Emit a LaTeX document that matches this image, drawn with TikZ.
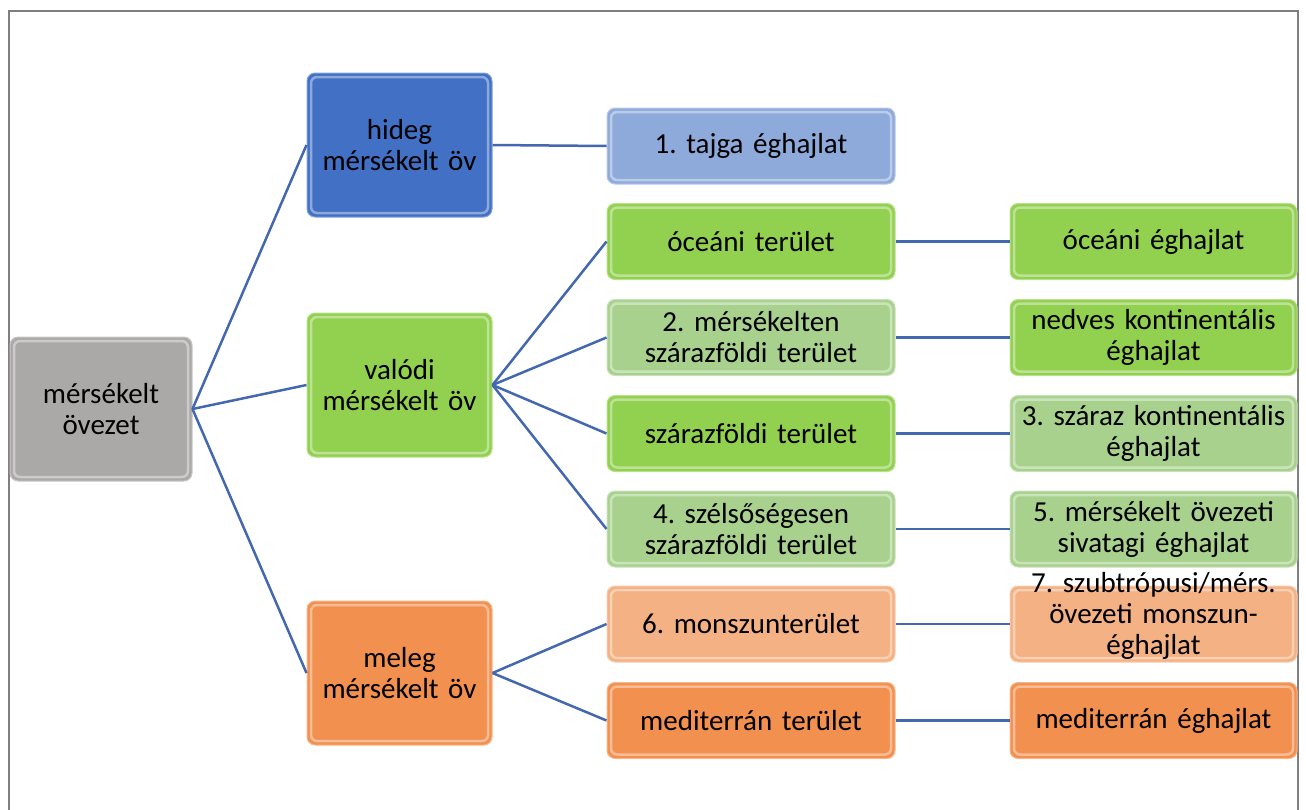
\documentclass[tikz,border=0pt]{standalone}
\usepackage{fontspec}
\setmainfont{Carlito}
\frenchspacing
\definecolor{cgray}{HTML}{ABA8A8}
\definecolor{cblue}{HTML}{4170C4}
\definecolor{clblue}{HTML}{8EAADB}
\definecolor{cgreen}{HTML}{92D050}
\definecolor{clgreen}{HTML}{A9D18E}
\definecolor{corange}{HTML}{F29050}
\definecolor{clorange}{HTML}{F4B183}
\definecolor{cline}{HTML}{4468B0}
\definecolor{cframe}{HTML}{7F7F7F}
\tikzset{
  box/.style={rectangle, rounded corners=8pt, fill=#1, draw=#1!65!white, line width=1pt,
    align=center, inner sep=2pt, font=\fontsize{29}{31}\selectfont,
    path picture={\draw[white, opacity=0.4, line width=2.5pt, rounded corners=6pt]
      ([shift={(4pt,4pt)}]path picture bounding box.south west) rectangle
      ([shift={(-4pt,-4pt)}]path picture bounding box.north east);}},
  rootbox/.style={box=#1, minimum width=182pt, minimum height=144pt, text width=174pt},
  lvtwo/.style={box=#1, minimum width=185pt, minimum height=144pt, text width=179pt},
  lvthree/.style={box=#1, minimum width=288pt, minimum height=76pt, text width=284pt},
  lvfour/.style={box=#1, minimum width=287pt, minimum height=76pt, text width=283pt},
  conn/.style={draw=cline, line width=2.5pt},
}
\begin{document}
\begin{tikzpicture}[x=1pt, y=-1pt]
\useasboundingbox (0,0) rectangle (1306,809);
\draw[cframe, line width=2.5pt] (9,812) -- (9,11) -- (1298,11) -- (1298,812);

\node[rootbox=cgray] (root) at (101,409) {mérsékelt\\övezet};

\node[lvtwo=cblue] (hideg) at (399.5,145) {hideg\\mérsékelt öv};
\node[lvtwo=cgreen] (valodi) at (399.5,385) {valódi\\mérsékelt öv};
\node[lvtwo=corange] (meleg) at (399.5,673) {meleg\\mérsékelt öv};

\node[lvthree=clblue] (tajga) at (751,146) {1. tajga éghajlat};
\node[lvthree=cgreen] (oceant) at (751,241.5) {óceáni terület};
\node[lvthree=clgreen] (merst) at (751,337.5) {2. mérsékelten\\szárazföldi terület};
\node[lvthree=cgreen] (szart) at (751,433.5) {szárazföldi terület};
\node[lvthree=clgreen] (szelst) at (751,529) {4. szélsőségesen\\szárazföldi terület};
\node[lvthree=clorange] (monszt) at (751,624) {6. monszunterület};
\node[lvthree=corange] (medt) at (751,720.5) {mediterrán terület};

\node[lvfour=cgreen] (oceane) at (1153.5,241.5) {óceáni éghajlat};
\node[lvfour=cgreen] (nedve) at (1153.5,337.5) {nedves kontinentális\\éghajlat};
\node[lvfour=clgreen] (szare) at (1153.5,433.5) {3. száraz kontinentális\\éghajlat};
\node[lvfour=clgreen] (sivae) at (1153.5,529) {5. mérsékelt övezeti\\sivatagi éghajlat};
\node[lvfour=clorange] (monsze) at (1153.5,624) {\smash{\begin{tabular}{@{}c@{}}7. szubtrópusi/mérs.\\övezeti monszun-\\éghajlat\end{tabular}}};
\node[lvfour=corange] (mede) at (1153.5,720.5) {mediterrán éghajlat};

\draw[conn] (root.east) -- (hideg.west);
\draw[conn] (root.east) -- (valodi.west);
\draw[conn] (root.east) -- (meleg.west);
\draw[conn] (hideg.east) -- (tajga.west);
\draw[conn] (valodi.east) -- (oceant.west);
\draw[conn] (valodi.east) -- (merst.west);
\draw[conn] (valodi.east) -- (szart.west);
\draw[conn] (valodi.east) -- (szelst.west);
\draw[conn] (meleg.east) -- (monszt.west);
\draw[conn] (meleg.east) -- (medt.west);
\draw[conn] (oceant.east) -- (oceane.west);
\draw[conn] (merst.east) -- (nedve.west);
\draw[conn] (szart.east) -- (szare.west);
\draw[conn] (szelst.east) -- (sivae.west);
\draw[conn] (monszt.east) -- (monsze.west);
\draw[conn] (medt.east) -- (mede.west);
\end{tikzpicture}
\end{document}
